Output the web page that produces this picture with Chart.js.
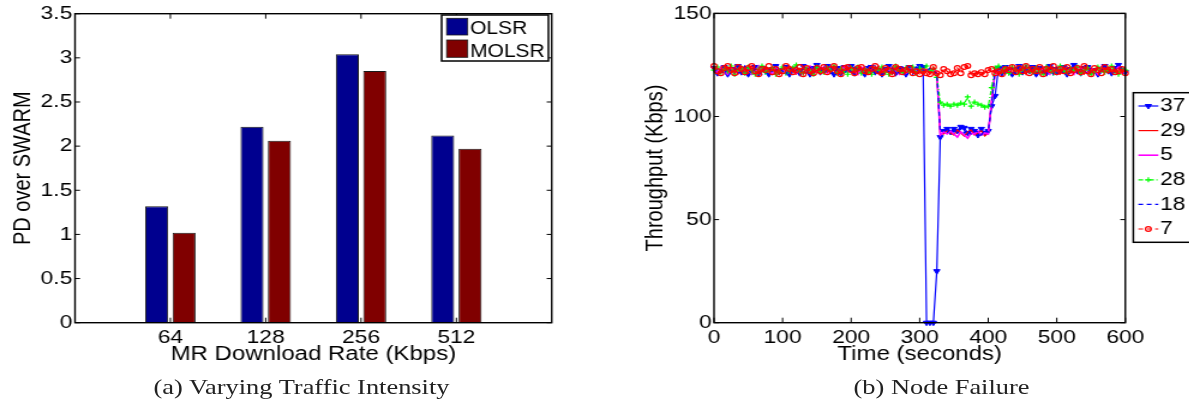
<!DOCTYPE html>
<html>
<head>
<meta charset="utf-8">
<script src="https://cdn.jsdelivr.net/npm/chart.js@4.4.0/dist/chart.umd.min.js"></script>
<style>
  html, body { margin: 0; padding: 0; background: #fff; overflow: hidden; }
  /* the printed figure is set slightly wide, so the whole panel is stretched horizontally */
  #figure { position: absolute; left: 0; top: 0; width: 990.83px; height: 402px;
            transform: scaleX(1.2); transform-origin: 0 0; }
  #figure canvas { position: absolute; top: 0; }
  #cv-a { left: 0; }
  #cv-b { left: 500px; }
  .caption { position: absolute; top: 375.6px; width: 300px; text-align: center; white-space: nowrap;
             font-family: "Liberation Serif", "Times New Roman", serif; font-size: 22px; line-height: 22px; color: #222; }
</style>
</head>
<body>
<div id="figure">
  <canvas id="cv-a" width="470" height="402"></canvas>
  <canvas id="cv-b" width="491" height="402"></canvas>
  <div class="caption" style="left:101.25px">(a) Varying Traffic Intensity</div>
  <div class="caption" style="left:634.6px">(b) Node Failure</div>
</div>
<script>
// ---------- (a) PD over SWARM per download rate ----------
const rates = ['64', '128', '256', '512'];
const olsr  = [1.32, 2.22, 3.04, 2.12];
const molsr = [1.02, 2.06, 2.85, 1.97];

// ---------- (b) per-node throughput around the node failure ----------
const times = [
    0,   5,  10,  15,  20,  25,  30,  35,  40,  45,  50,  55,  60,  65,  70,  75,  80,  85,  90,  95,
  100, 105, 110, 115, 120, 125, 130, 135, 140, 145, 150, 155, 160, 165, 170, 175, 180, 185, 190, 195,
  200, 205, 210, 215, 220, 225, 230, 235, 240, 245, 250, 255, 260, 265, 270, 275, 280, 285, 290, 295,
  300, 305, 310, 315, 320, 325, 330, 335, 340, 345, 350, 355, 360, 365, 370, 375, 380, 385, 390, 395,
  400, 405, 410, 415, 420, 425, 430, 435, 440, 445, 450, 455, 460, 465, 470, 475, 480, 485, 490, 495,
  500, 505, 510, 515, 520, 525, 530, 535, 540, 545, 550, 555, 560, 565, 570, 575, 580, 585, 590, 595,
  600
];
const nodeNames = ['37', '29', '5', '28', '18', '7'];

const node37 = [
  123.5, 121.0, 122.5, 124.0, 120.5, 123.0, 122.0, 124.5, 121.5, 123.0, 120.5, 122.5, 124.0, 121.0, 123.5, 122.0, 120.5, 123.0, 124.5, 121.5,
  122.5, 124.0, 120.5, 123.0, 122.0, 121.0, 124.5, 122.5, 120.5, 123.5, 125.0, 121.5, 123.0, 124.5, 122.0, 120.5, 123.5, 121.0, 124.0, 122.5,
  124.5, 121.0, 123.0, 122.0, 120.5, 123.5, 124.0, 121.5, 122.5, 120.5, 123.0, 124.5, 122.0, 121.0, 123.5, 122.5, 120.5, 124.0, 123.0, 121.5,
  124.5, 124.0, 0, 0, 0, 25.0, 90.0, 93.0, 94.0, 92.5, 94.0, 93.0, 95.0, 94.5, 92.0, 94.0, 93.0, 91.0, 94.0, 92.0,
  93.0, 105.0, 110.0, 123.5,
  121.0, 124.0, 122.5, 120.5, 123.0, 124.5, 121.5, 123.0, 122.0, 124.0, 120.5, 123.5, 122.0, 121.0, 124.5, 123.0,
  121.5, 122.5, 124.0, 120.5, 123.0, 125.0, 122.0, 121.0, 123.5, 124.0, 121.5, 122.5, 120.5, 123.0, 124.5, 122.0,
  121.0, 123.5, 125.0, 122.5, 121.5
];
const node29 = [
  122.0, 123.5, 121.0, 122.5, 124.0, 121.5, 123.0, 120.5, 122.5, 124.0, 121.0, 123.0, 122.0, 120.5, 123.5, 124.0, 121.5, 122.5, 123.0, 120.5,
  123.0, 122.0, 124.5, 121.5, 120.5, 123.0, 122.5, 124.0, 121.0, 122.5, 123.5, 120.5, 122.0, 124.0, 121.5, 123.0, 122.5, 120.5, 123.5, 124.0,
  122.0, 123.5, 121.0, 124.0, 122.5, 120.5, 123.0, 122.0, 124.5, 121.5, 122.5, 123.0, 120.5, 124.0, 122.0, 121.5, 123.5, 122.5, 121.0, 123.0,
  122.5, 121.5, 123.0, 122.0, 121.5, 120.5, 92.0, 91.5, 93.0, 92.0, 91.0, 93.5, 92.0, 90.5, 92.5, 93.5, 91.0, 92.0, 93.0, 90.5,
  92.0, 107.0, 121.5, 123.0,
  122.0, 120.5, 123.5, 124.0, 121.5, 122.5, 123.0, 120.5, 124.0, 122.0, 121.5, 123.5, 122.5, 124.5, 121.0, 123.0,
  122.0, 120.5, 123.5, 122.5, 124.0, 121.5, 123.0, 122.0, 120.5, 124.0, 122.5, 121.5, 123.5, 122.0, 124.0, 121.0,
  122.5, 123.5, 121.5, 122.0, 123.0
];
const node5 = [
  123.0, 121.5, 124.0, 122.0, 120.5, 123.5, 122.5, 121.0, 124.0, 122.5, 123.0, 120.5, 121.5, 124.5, 122.0, 123.0, 121.5, 120.5, 123.5, 122.0,
  121.5, 123.5, 122.0, 124.0, 121.0, 122.5, 120.5, 123.0, 124.5, 122.0, 121.5, 123.0, 124.0, 121.0, 122.5, 123.5, 120.5, 122.0, 124.0, 121.5,
  123.0, 122.0, 120.5, 123.5, 124.0, 121.5, 122.5, 124.5, 121.0, 123.0, 121.5, 122.0, 124.0, 122.5, 120.5, 123.5, 121.0, 122.5, 124.0, 122.0,
  121.5, 123.0, 122.5, 121.0, 123.0, 121.5, 91.0, 92.5, 91.5, 93.0, 91.5, 90.0, 92.5, 91.0, 89.5, 92.0, 91.5, 93.0, 91.0, 92.0,
  91.5, 108.0, 122.0, 121.5,
  123.5, 122.0, 121.0, 124.0, 122.5, 120.5, 123.0, 124.5, 121.5, 122.0, 123.5, 121.0, 124.0, 122.5, 120.5, 123.0,
  122.0, 124.5, 121.5, 123.0, 122.0, 120.5, 123.5, 124.0, 122.0, 121.0, 123.5, 122.5, 120.5, 124.0, 122.0, 123.0,
  121.5, 122.5, 124.0, 121.0, 122.5
];
const node28 = [
  122.5, 124.0, 121.5, 123.0, 122.0, 124.5, 120.5, 122.5, 123.5, 121.0, 124.0, 122.0, 120.5, 123.0, 124.5, 121.5, 122.5, 123.5, 120.5, 122.0,
  124.0, 121.0, 122.5, 123.5, 125.0, 122.0, 121.0, 123.0, 122.5, 120.5, 124.0, 122.0, 121.5, 123.5, 122.5, 124.5, 121.0, 123.0, 122.0, 120.5,
  123.5, 122.5, 124.0, 121.0, 123.0, 122.0, 120.5, 123.5, 122.5, 124.0, 121.5, 120.5, 123.0, 124.5, 122.0, 121.5, 123.5, 122.0, 124.0, 121.0,
  123.5, 122.0, 124.5, 122.0, 123.0, 119.0, 107.0, 105.5, 106.0, 105.0, 106.0, 105.5, 106.5, 106.0, 109.5, 105.0, 107.0, 106.0, 105.5, 104.5,
  105.0, 114.0, 123.5, 124.5,
  122.0, 123.5, 121.0, 124.0, 122.5, 120.5, 123.0, 124.5, 122.0, 121.5, 123.5, 122.0, 120.5, 124.0, 122.5, 121.0,
  123.0, 124.5, 122.0, 121.5, 123.0, 122.5, 124.0, 121.0, 122.5, 123.5, 120.5, 122.0, 124.0, 122.5, 121.5, 123.0,
  124.5, 122.0, 120.5, 123.0, 122.5
];
const node18 = [
  121.5, 123.0, 122.5, 120.5, 124.0, 122.0, 123.5, 121.0, 122.0, 124.5, 122.5, 121.0, 123.0, 122.5, 120.5, 124.0, 123.0, 121.5, 122.0, 123.5,
  122.0, 120.5, 123.5, 122.5, 124.0, 121.5, 123.0, 122.0, 124.5, 121.0, 122.5, 123.5, 121.0, 122.5, 124.0, 121.5, 123.0, 122.5, 120.5, 123.5,
  121.5, 124.0, 122.5, 123.0, 121.0, 124.5, 122.0, 123.5, 121.0, 122.5, 124.0, 121.5, 123.5, 122.0, 121.0, 124.0, 122.5, 123.0, 120.5, 124.0,
  123.0, 122.5, 121.5, 123.5, 122.0, 121.0, 92.5, 93.5, 92.0, 94.0, 92.5, 93.0, 94.5, 92.0, 93.5, 91.5, 93.0, 92.5, 91.0, 93.5,
  92.5, 106.0, 122.5, 122.0,
  124.0, 121.5, 122.5, 123.5, 120.5, 123.0, 122.0, 124.5, 121.0, 123.0, 122.5, 124.0, 121.5, 122.0, 123.5, 120.5,
  124.0, 122.5, 121.0, 123.5, 122.0, 124.5, 121.5, 123.0, 122.5, 120.5, 124.0, 123.0, 121.5, 122.0, 124.5, 122.5,
  121.0, 123.5, 122.0, 124.0, 121.5
];
const node7 = [
  124.5, 122.0, 121.0, 123.5, 124.5, 122.5, 121.0, 124.0, 123.0, 121.5, 123.5, 124.5, 122.0, 120.5, 123.0, 122.5, 124.5, 121.5, 123.0, 120.5,
  122.0, 124.5, 123.0, 121.5, 122.5, 124.0, 120.5, 123.5, 122.0, 121.0, 123.5, 122.0, 124.0, 121.5, 123.0, 124.5, 122.0, 120.5, 123.5, 124.0,
  122.5, 121.0, 123.5, 124.0, 122.0, 121.5, 123.0, 124.5, 122.0, 121.0, 123.5, 122.5, 120.5, 124.0, 123.0, 121.5, 122.5, 123.5, 121.0, 122.0,
  120.5, 122.0, 121.0, 120.5, 124.0, 121.0, 120.0, 123.0, 122.0, 120.5, 121.0, 123.5, 121.0, 124.0, 124.5, 120.0, 121.0, 120.5, 121.5, 120.5,
  122.5, 123.0, 121.0, 122.0,
  120.5, 123.0, 122.5, 124.0, 121.5, 123.5, 122.0, 124.5, 121.0, 123.0, 122.0, 124.0, 120.5, 123.0, 122.5, 124.5,
  121.5, 123.0, 122.0, 124.0, 121.0, 122.5, 123.5, 121.5, 124.5, 122.0, 120.5, 123.5, 122.5, 121.0, 124.0, 122.5,
  123.0, 121.5, 122.0, 123.0, 121.0
];

const SANS = '"Liberation Sans", Arial, Helvetica, sans-serif';
const tickFont = { family: SANS, size: 19 };
const titleFont = { family: SANS, size: 20 };

// Axes box with inward tick marks on all four sides
const axesBox = {
  id: 'axesBox',
  afterDatasetsDraw(chart, args, o) {
    const { ctx, chartArea: a, scales } = chart;
    ctx.save();
    ctx.strokeStyle = '#000';
    ctx.lineWidth = 1;
    ctx.beginPath();
    for (const t of scales.y.ticks) {
      const p = scales.y.getPixelForValue(t.value);
      ctx.moveTo(a.left, p);  ctx.lineTo(a.left + o.yLen, p);
      ctx.moveTo(a.right, p); ctx.lineTo(a.right - o.yLen, p);
    }
    for (const t of scales.x.ticks) {
      const p = scales.x.getPixelForValue(t.value);
      ctx.moveTo(p, a.bottom); ctx.lineTo(p, a.bottom - o.xLen);
      ctx.moveTo(p, a.top);    ctx.lineTo(p, a.top + o.xLen);
    }
    ctx.stroke();
    ctx.lineWidth = 1.4;
    ctx.strokeRect(a.left, a.top, a.width, a.height);
    ctx.restore();
  }
};

// Boxed key with filled colour patches for the bar series
const barKey = {
  id: 'barKey',
  afterDraw(chart, args, o) {
    const { ctx } = chart;
    ctx.save();
    ctx.fillStyle = '#fff';
    ctx.fillRect(o.box.x, o.box.y, o.box.w, o.box.h);
    ctx.strokeStyle = '#000';
    ctx.lineWidth = 1.5;
    ctx.strokeRect(o.box.x, o.box.y, o.box.w, o.box.h);
    ctx.font = `${o.fontSize}px ${SANS}`;
    ctx.textBaseline = 'alphabetic';
    chart.data.datasets.forEach((ds, i) => {
      const r = o.rows[i];
      ctx.fillStyle = ds.backgroundColor;
      ctx.fillRect(o.patchX, r.top, o.patchW, r.h);
      ctx.strokeStyle = '#1a1a1a';
      ctx.lineWidth = 0.8;
      ctx.strokeRect(o.patchX, r.top, o.patchW, r.h);
      ctx.fillStyle = '#000';
      ctx.fillText(ds.label, o.textX, r.base);
    });
    ctx.restore();
  }
};

// Boxed key with line samples and markers for the throughput series
const lineKey = {
  id: 'lineKey',
  afterDraw(chart, args, o) {
    const { ctx } = chart;
    ctx.save();
    ctx.fillStyle = '#fff';
    ctx.fillRect(o.box.x, o.box.y, o.box.w, o.box.h);
    ctx.strokeStyle = '#000';
    ctx.lineWidth = 1.5;
    ctx.strokeRect(o.box.x, o.box.y, o.box.w, o.box.h);
    ctx.font = `${o.fontSize}px ${SANS}`;
    ctx.textBaseline = 'middle';
    chart.data.datasets.forEach((ds, i) => {
      const y = o.firstRow + i * o.rowGap;
      ctx.strokeStyle = ds.borderColor;
      ctx.lineWidth = ds.borderWidth;
      ctx.setLineDash(ds.borderDash || []);
      ctx.beginPath();
      ctx.moveTo(o.lineX0, y);
      ctx.lineTo(o.lineX1, y);
      ctx.stroke();
      ctx.setLineDash([]);
      if (ds.pointRadius > 0) {
        ctx.fillStyle = ds.pointBackgroundColor;
        ctx.strokeStyle = ds.pointBorderColor;
        ctx.lineWidth = ds.pointBorderWidth;
        Chart.helpers.drawPoint(ctx, {
          pointStyle: ds.pointStyle, rotation: ds.pointRotation || 0,
          radius: ds.pointRadius, borderWidth: ds.pointBorderWidth
        }, (o.lineX0 + o.lineX1) / 2, y);
      }
      ctx.fillStyle = '#000';
      ctx.fillText(ds.label, o.textX, y);
    });
    ctx.restore();
  }
};

// ---------- chart (a) ----------
new Chart(document.getElementById('cv-a'), {
  type: 'bar',
  data: {
    datasets: [
      { label: 'OLSR',  data: olsr.map((v, i) => ({ x: i + 1, y: v })),
        backgroundColor: '#00008f', borderColor: '#1a1a1a', borderWidth: 1 },
      { label: 'MOLSR', data: molsr.map((v, i) => ({ x: i + 1, y: v })),
        backgroundColor: '#800000', borderColor: '#1a1a1a', borderWidth: 1 }
    ]
  },
  options: {
    responsive: false,
    animation: false,
    events: [],
    categoryPercentage: 0.574,
    barPercentage: 0.84,
    layout: { padding: { left: 0, top: 11.7, right: 10.25, bottom: 0 } },
    scales: {
      x: {
        type: 'linear', min: 0, max: rates.length + 1, offset: false,
        grid: { display: false, drawTicks: false, offset: false }, border: { display: false },
        afterBuildTicks: s => { s.ticks = rates.map((r, i) => ({ value: i + 1 })); },
        afterFit: s => { s.height = 79.3; },
        ticks: { font: tickFont, color: '#000', padding: 4, autoSkip: false, maxRotation: 0,
                 callback: v => rates[v - 1] },
        title: { display: true, text: 'MR Download Rate (Kbps)', font: titleFont, color: '#000',
                 padding: { top: 0, bottom: 35.2 } }
      },
      y: {
        min: 0, max: 3.5,
        grid: { display: false, drawTicks: false }, border: { display: false },
        afterFit: s => { s.width = 62.5; },
        ticks: { stepSize: 0.5, font: tickFont, color: '#000', padding: 2.3, callback: v => String(v) },
        title: { display: true, text: 'PD over SWARM', font: titleFont, color: '#000',
                 padding: { top: 7.3, bottom: 0 } }
      }
    },
    plugins: {
      legend: { display: false },
      tooltip: { enabled: false },
      axesBox: { xLen: 5, yLen: 4.2 },
      barKey: {
        box: { x: 368, y: 15, w: 89, h: 46 },
        patchX: 372.2, patchW: 17.5,
        rows: [ { top: 18.3, h: 16.7, base: 34.3 }, { top: 40, h: 17.3, base: 56.7 } ],
        textX: 391.7, fontSize: 17.5
      }
    }
  },
  plugins: [axesBox, barKey]
});

// ---------- chart (b) ----------
const toPoints = values => values.map((v, i) => ({ x: times[i], y: v }));
const lineBase = { fill: false, tension: 0, clip: false, pointHoverRadius: 0 };

new Chart(document.getElementById('cv-b'), {
  type: 'line',
  data: {
    datasets: [
      { ...lineBase, label: nodeNames[0], data: toPoints(node37), order: 6,
        borderColor: '#0000ff', borderWidth: 1.2,
        pointStyle: 'triangle', pointRotation: 180, pointRadius: 3,
        pointBackgroundColor: '#0000ff', pointBorderColor: '#0000ff', pointBorderWidth: 1 },
      { ...lineBase, label: nodeNames[1], data: toPoints(node29), order: 5,
        borderColor: '#ff0000', borderWidth: 1.2, pointRadius: 0 },
      { ...lineBase, label: nodeNames[2], data: toPoints(node5), order: 4,
        borderColor: '#ff00ff', borderWidth: 1.6, pointRadius: 0 },
      { ...lineBase, label: nodeNames[3], data: toPoints(node28), order: 3,
        borderColor: '#00ff00', borderWidth: 1.2, borderDash: [4, 2, 1, 2],
        pointStyle: 'cross', pointRadius: 2.5,
        pointBackgroundColor: '#00ff00', pointBorderColor: '#00ff00', pointBorderWidth: 1.2 },
      { ...lineBase, label: nodeNames[4], data: toPoints(node18), order: 2,
        borderColor: '#0000ff', borderWidth: 1.2, borderDash: [4, 3], pointRadius: 0 },
      { ...lineBase, label: nodeNames[5], data: toPoints(node7), order: 1,
        borderColor: '#ff0000', borderWidth: 1.2, borderDash: [4, 3],
        pointStyle: 'circle', pointRadius: 2.4,
        pointBackgroundColor: 'rgba(255,255,255,0)', pointBorderColor: '#ff0000', pointBorderWidth: 1.2 }
    ]
  },
  options: {
    responsive: false,
    animation: false,
    events: [],
    layout: { padding: { left: 0, top: 11.7, right: 53.25, bottom: 0 } },
    scales: {
      x: {
        type: 'linear', min: 0, max: 600,
        grid: { display: false, drawTicks: false }, border: { display: false },
        afterFit: s => { s.height = 79.3; },
        ticks: { stepSize: 100, font: tickFont, color: '#000', padding: 4, autoSkip: false, maxRotation: 0 },
        title: { display: true, text: 'Time (seconds)', font: titleFont, color: '#000',
                 padding: { top: 0, bottom: 35.2 } }
      },
      y: {
        min: 0, max: 150,
        grid: { display: false, drawTicks: false }, border: { display: false },
        afterFit: s => { s.width = 95; },
        ticks: { stepSize: 50, font: tickFont, color: '#000', padding: 2 },
        title: { display: true, text: 'Throughput (Kbps)', font: titleFont, color: '#000',
                 padding: { top: 34.3, bottom: 0 } }
      }
    },
    plugins: {
      legend: { display: false },
      tooltip: { enabled: false },
      axesBox: { xLen: 5, yLen: 4.2 },
      lineKey: {
        box: { x: 444.4, y: 92.7, w: 60, h: 149.6 },
        lineX0: 448.6, lineX1: 465.25, textX: 466.7,
        firstRow: 106, rowGap: 24.6, fontSize: 19
      }
    }
  },
  plugins: [axesBox, lineKey]
});
</script>
</body>
</html>
